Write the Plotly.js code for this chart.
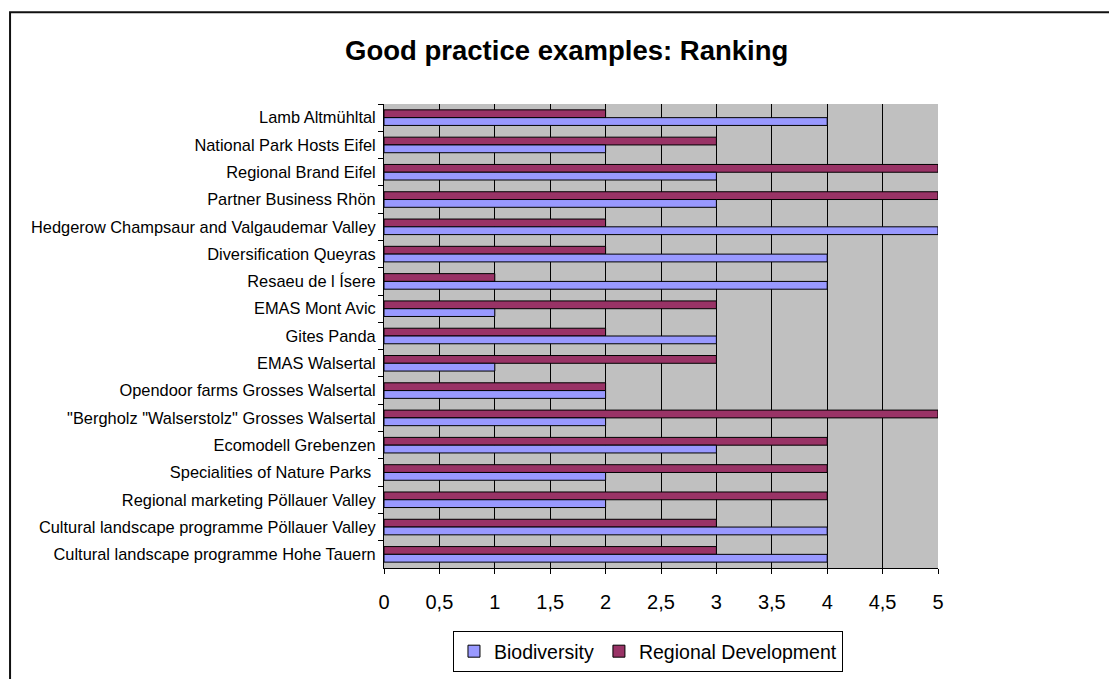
<!DOCTYPE html>
<html>
<head>
<meta charset="utf-8">
<script src="https://cdn.plot.ly/plotly-3.0.1.min.js"></script>
<style>html,body{margin:0;padding:0;background:#fff;}#chart{width:1109px;height:679px;}</style>
</head>
<body>
<div id="chart"></div>
<script>
// categories listed top to bottom as in the picture
var categories = [
  'Lamb Altmühltal',
  'National Park Hosts Eifel',
  'Regional Brand Eifel',
  'Partner Business Rhön',
  'Hedgerow Champsaur and Valgaudemar Valley',
  'Diversification Queyras',
  'Resaeu de l Ísere',
  'EMAS Mont Avic',
  'Gites Panda',
  'EMAS Walsertal',
  'Opendoor farms Grosses Walsertal',
  '"Bergholz "Walserstolz" Grosses Walsertal',
  'Ecomodell Grebenzen',
  'Specialities of Nature Parks ',
  'Regional marketing Pöllauer Valley',
  'Cultural landscape programme Pöllauer Valley',
  'Cultural landscape programme Hohe Tauern'
];
var biodiversity = [4, 2, 3, 3, 5, 4, 4, 1, 3, 1, 2, 2, 3, 2, 2, 4, 4];
var regionalDevelopment = [2, 3, 5, 5, 2, 2, 1, 3, 2, 3, 2, 5, 4, 4, 4, 3, 3];
var xTicks = [0, 0.5, 1, 1.5, 2, 2.5, 3, 3.5, 4, 4.5, 5];

var FONT = 'Arial, "Liberation Sans", sans-serif';

var traces = [
  {
    type: 'bar', orientation: 'h', name: 'Regional Development',
    y: categories, x: regionalDevelopment,
    marker: {color: '#993366', line: {color: '#000000', width: 1}}
  },
  {
    type: 'bar', orientation: 'h', name: 'Biodiversity',
    y: categories, x: biodiversity,
    marker: {color: '#9999FF', line: {color: '#000000', width: 1}}
  }
];

var layout = {
  width: 1109, height: 679,
  margin: {l: 384, r: 171, t: 104, b: 111, pad: 0},
  paper_bgcolor: '#FFFFFF',
  plot_bgcolor: '#C0C0C0',
  font: {family: FONT, color: '#000000'},
  separators: ', ',
  barmode: 'group',
  bargap: 0.43,
  bargroupgap: 0,
  showlegend: true,
  title: {
    text: 'Good practice examples: Ranking',
    font: {family: FONT, size: 27.5, color: '#000000', weight: 'bold'},
    x: 0.511, xref: 'container', xanchor: 'center',
    y: 0.926, yref: 'container', yanchor: 'middle',
    automargin: false
  },
  xaxis: {
    range: [0, 5], tickvals: xTicks,
    automargin: false,
    showgrid: true, gridcolor: '#000000', gridwidth: 1,
    zeroline: false,
    showline: true, linecolor: '#000000', linewidth: 1,
    ticks: 'outside', ticklen: 5, tickcolor: '#000000',
    ticklabelstandoff: 11,
    tickfont: {family: FONT, size: 20, color: '#000000'},
    fixedrange: true
  },
  yaxis: {
    type: 'category', autorange: 'reversed',
    automargin: false,
    categoryorder: 'array', categoryarray: categories,
    showgrid: false, zeroline: false,
    showline: true, linecolor: '#000000', linewidth: 1,
    ticks: 'outside', tickson: 'boundaries', ticklen: 5, tickcolor: '#000000',
    ticklabelstandoff: 4,
    tickfont: {family: FONT, size: 16.4, color: '#000000'},
    fixedrange: true
  },
  legend: {
    orientation: 'h', traceorder: 'reversed',
    xref: 'paper', x: 0.4765, xanchor: 'center',
    yref: 'container', y: 0.0405, yanchor: 'middle',
    bgcolor: '#FFFFFF', bordercolor: '#000000', borderwidth: 1,
    font: {family: FONT, size: 19.5, color: '#000000'},
    itemclick: false, itemdoubleclick: false
  },
  shapes: [
    {
      type: 'path', xref: 'paper', yref: 'paper',
      path: 'M -0.675 -0.3 L -0.675 1.198 L 1.35 1.198',
      line: {color: '#111111', width: 2}
    }
  ]
};

Plotly.newPlot('chart', traces, layout, {displayModeBar: false, staticPlot: true});
</script>
</body>
</html>
